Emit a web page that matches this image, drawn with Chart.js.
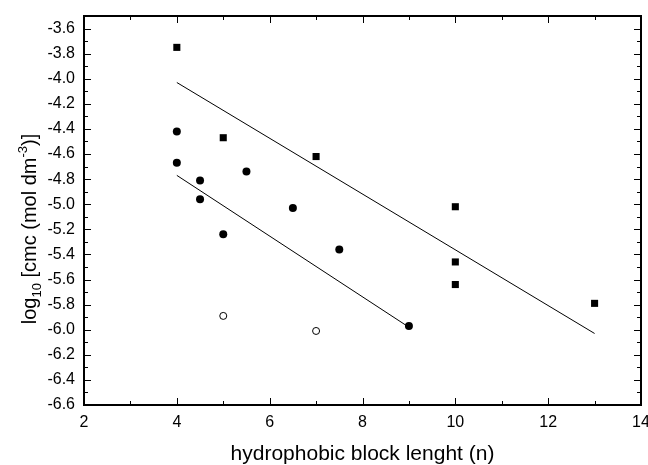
<!DOCTYPE html>
<html>
<head>
<meta charset="utf-8">
<script src="https://cdn.jsdelivr.net/npm/chart.js@4"></script>
<style>
  html, body { margin: 0; padding: 0; background: #fff; }
  #wrap { width: 648px; height: 465px; }
</style>
</head>
<body>
<div id="wrap"><canvas id="cmcChart"></canvas></div>
<script>
// squares
const sqX = [4, 5, 7, 10, 10, 10, 13]
const sqY = [-3.75, -4.47, -4.62, -5.02, -5.46, -5.64, -5.79]
// filled circles
const dotX = [4, 4, 4.5, 4.5, 5.5, 6.5, 5, 7.5, 9]
const dotY = [-4.42, -4.67, -4.81, -4.96, -4.74, -5.03, -5.24, -5.36, -5.97]
// open circles
const openX = [5, 7]
const openY = [-5.89, -6.01]
// fitted lines (end points)
const fitUpX = [4, 13]
const fitUpY = [-4.03, -6.03]
const fitLowX = [4, 9]
const fitLowY = [-4.77, -5.98]

const xTicks = [2, 4, 6, 8, 10, 12, 14]
const yTicks = [-6.6, -6.4, -6.2, -6.0, -5.8, -5.6, -5.4, -5.2, -5.0, -4.8, -4.6, -4.4, -4.2, -4.0, -3.8, -3.6]

function pts(xs, ys) {
    return xs.map((x, i) => ({ x: x, y: ys[i] }))
}

const font = 'Arial, "Liberation Sans", sans-serif'

// ticks pointing inward on all four sides + axis titles
const framePlugin = {
    id: 'frame',
    afterDraw(chart) {
        const ctx = chart.ctx
        const a = chart.chartArea
        const xs = chart.scales.x
        const ys = chart.scales.y
        ctx.save()
        ctx.strokeStyle = '#000'
        ctx.lineWidth = 1
        ctx.beginPath()
        for (let v = 2; v <= 14; v += 1) {
            const px = Math.round(xs.getPixelForValue(v)) + 0.5
            const len = v % 2 === 0 ? 7 : 4
            ctx.moveTo(px, a.bottom); ctx.lineTo(px, a.bottom - len)
            ctx.moveTo(px, a.top); ctx.lineTo(px, a.top + len)
        }
        for (let k = -66; k <= -35; k++) {
            const py = Math.round(ys.getPixelForValue(k / 10)) + 0.5
            const len = k % 2 === 0 ? 7 : 4
            ctx.moveTo(a.left, py); ctx.lineTo(a.left + len, py)
            ctx.moveTo(a.right, py); ctx.lineTo(a.right - len, py)
        }
        ctx.stroke()

        ctx.lineWidth = 2
        ctx.strokeRect(a.left, a.top, a.right - a.left, a.bottom - a.top)

        // x title
        ctx.fillStyle = '#000'
        ctx.font = '21px ' + font
        ctx.textAlign = 'center'
        ctx.textBaseline = 'alphabetic'
        ctx.fillText('hydrophobic block lenght (n)', (a.left + a.right) / 2, 460)

        // y title with sub/superscript
        ctx.translate(36, 229)
        ctx.rotate(-Math.PI / 2)
        const big = '20px ' + font
        const small = '13px ' + font
        const parts = [
            ['log', big, 0],
            ['10', small, 5],
            [' [cmc (mol dm', big, 0],
            ['-3', small, -9],
            [')]', big, 0]
        ]
        let total = 0
        parts.forEach(p => { ctx.font = p[1]; total += ctx.measureText(p[0]).width })
        let cx = -total / 2
        ctx.textAlign = 'left'
        parts.forEach(p => {
            ctx.font = p[1]
            ctx.fillText(p[0], cx, p[2])
            cx += ctx.measureText(p[0]).width
        })
        ctx.restore()
    }
}

new Chart(document.getElementById('cmcChart'), {
    type: 'scatter',
    data: {
        datasets: [
            {
                label: 'fit upper',
                data: pts(fitUpX, fitUpY),
                showLine: true,
                borderColor: '#000',
                borderWidth: 1,
                pointRadius: 0
            },
            {
                label: 'fit lower',
                data: pts(fitLowX, fitLowY),
                showLine: true,
                borderColor: '#000',
                borderWidth: 1,
                pointRadius: 0
            },
            {
                label: 'squares',
                data: pts(sqX, sqY),
                pointStyle: 'rect',
                pointRadius: 5,
                backgroundColor: '#000',
                borderColor: '#000',
                borderWidth: 0
            },
            {
                label: 'circles',
                data: pts(dotX, dotY),
                pointStyle: 'circle',
                pointRadius: 4,
                backgroundColor: '#000',
                borderColor: '#000',
                borderWidth: 0
            },
            {
                label: 'open circles',
                data: pts(openX, openY),
                pointStyle: 'circle',
                pointRadius: 3.5,
                backgroundColor: '#fff',
                borderColor: '#000',
                borderWidth: 1
            }
        ]
    },
    options: {
        responsive: true,
        maintainAspectRatio: false,
        animation: false,
        layout: { padding: { top: 16, right: 7, left: 0, bottom: 0 } },
        plugins: {
            legend: { display: false },
            tooltip: { enabled: false }
        },
        scales: {
            x: {
                type: 'linear',
                min: 2,
                max: 14,
                border: { display: false },
                grid: { display: false, drawTicks: false },
                afterBuildTicks: s => { s.ticks = xTicks.map(v => ({ value: v })) },
                afterFit: s => { s.height = 60; s.paddingLeft = 0; s.paddingRight = 0 },
                ticks: {
                    padding: 8,
                    color: '#000',
                    font: { family: font, size: 16 }
                }
            },
            y: {
                type: 'linear',
                min: -6.6,
                max: -3.5,
                border: { display: false },
                grid: { display: false, drawTicks: false },
                afterBuildTicks: s => { s.ticks = yTicks.map(v => ({ value: v })) },
                afterFit: s => { s.width = 84; s.paddingTop = 0; s.paddingBottom = 0 },
                ticks: {
                    padding: 9,
                    color: '#000',
                    font: { family: font, size: 16 },
                    callback: v => v.toFixed(1)
                }
            }
        }
    },
    plugins: [framePlugin]
});
</script>
</body>
</html>
